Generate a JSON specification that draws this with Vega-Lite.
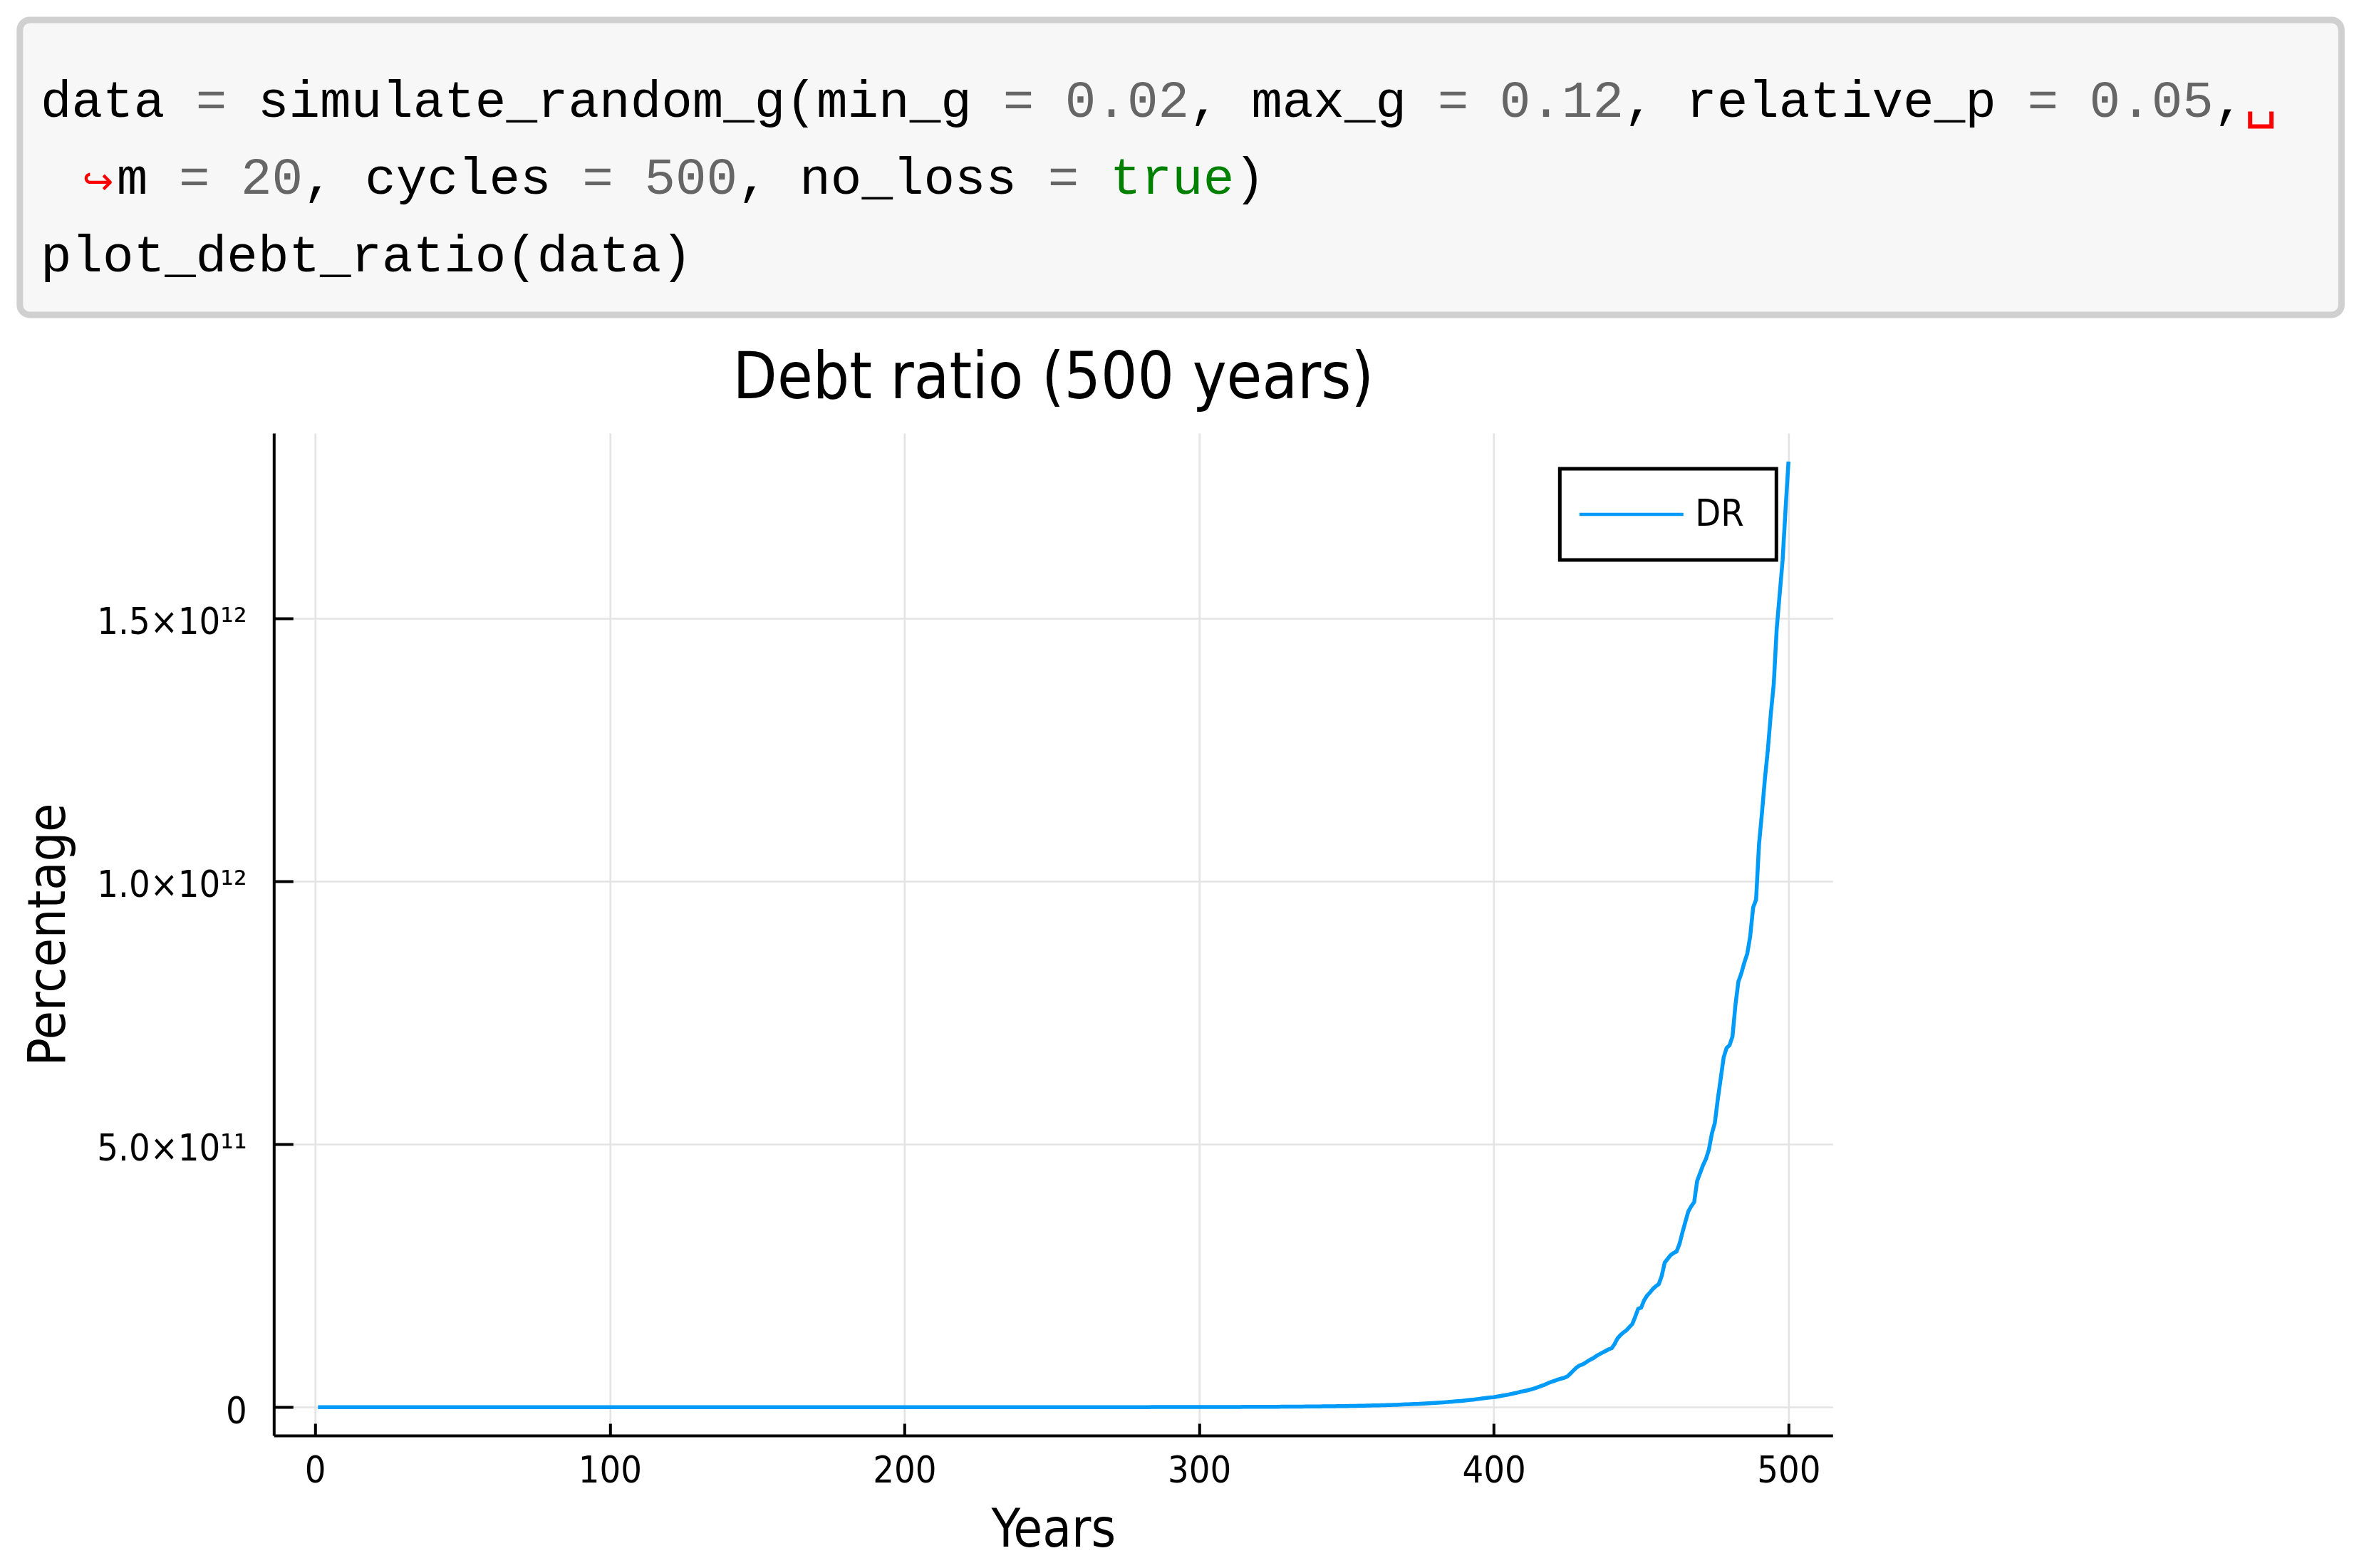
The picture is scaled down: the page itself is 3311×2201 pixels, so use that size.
{
  "$schema": "https://vega.github.io/schema/vega-lite/v6.json",
  "background": "white",
  "padding": {"left": 23.3, "top": 23, "right": 10, "bottom": 10},
  "spacing": 40,
  "config": {
    "view": {"stroke": null},
    "legend": {"strokeWidth": 5}
  },
  "resolve": {"scale": {"color": "independent", "x": "independent", "y": "independent"}},
  "vconcat": [
    {
      "width": 2902,
      "height": 414,
      "layer": [
        {
          "data": {"values": [{"frame": "code cell"}]},
          "mark": {"type": "rect", "fill": "#f7f7f7", "stroke": "#d0d0d0", "strokeWidth": 9, "cornerRadius": 14},
          "encoding": {
            "x": {"datum": -0.67, "type": "quantitative", "scale": {"domain": [7.512, 74.118], "nice": false, "zero": false}, "axis": null},
            "x2": {"datum": 74.12},
            "y": {"datum": -0.25, "type": "quantitative", "scale": {"domain": [-0.25, 3.566], "nice": false, "zero": false, "reverse": true}, "axis": null},
            "y2": {"datum": 3.566}
          }
        },
        {
          "data": {"name": "code"},
          "transform": [{"filter": "datum.kind != 'wrap'"}],
          "mark": {"type": "text", "font": "Liberation Mono", "fontSize": 72.6, "align": "left", "baseline": "alphabetic"},
          "encoding": {
            "x": {"field": "col", "type": "quantitative", "scale": {"domain": [7.512, 74.118], "nice": false, "zero": false}, "axis": null},
            "y": {"field": "line", "type": "quantitative", "scale": {"domain": [-0.25, 3.566], "nice": false, "zero": false, "reverse": true}, "axis": null},
            "text": {"field": "token"},
            "color": {"field": "kind", "type": "nominal", "scale": {"domain": ["plain", "op", "num", "keyword", "wrap", "space"], "range": ["#000000", "#666666", "#666666", "#008000", "#ff0000", "#ff0000"]}, "legend": null}
          }
        },
        {
          "data": {"name": "code"},
          "transform": [{"filter": "datum.kind == 'wrap'"}],
          "mark": {"type": "text", "font": "DejaVu Sans", "fontSize": 52, "align": "left", "baseline": "alphabetic"},
          "encoding": {
            "x": {"field": "col", "type": "quantitative", "axis": null},
            "y": {"field": "line", "type": "quantitative", "axis": null},
            "text": {"field": "token"},
            "color": {"field": "kind", "type": "nominal", "legend": null}
          }
        }
      ]
    },
    {
      "width": 2188,
      "height": 1407,
      "title": {"text": "Debt ratio (500 years)", "font": "DejaVu Sans Condensed, Liberation Sans, sans-serif", "fontSize": 90, "fontWeight": "normal", "color": "black", "anchor": "middle", "offset": 30},
      "data": {"name": "debt"},
      "mark": {"type": "line", "strokeWidth": 5.5, "interpolate": "linear"},
      "encoding": {
        "x": {
          "field": "year", "type": "quantitative",
          "scale": {"domain": [-14, 515], "nice": false, "zero": false},
          "axis": {
            "values": [0, 100, 200, 300, 400, 500], "format": "d",
            "title": "Years", "titleFont": "DejaVu Sans Condensed, Liberation Sans, sans-serif", "titleFontSize": 74, "titleFontWeight": "normal", "titleColor": "black", "titlePadding": 22,
            "labelFont": "DejaVu Sans Condensed, Liberation Sans, sans-serif", "labelFontSize": 52, "labelColor": "black", "labelPadding": 42,
            "domainColor": "black", "domainWidth": 4, "tickColor": "black", "tickWidth": 4, "tickSize": -17,
            "grid": true, "gridColor": "#e4e4e4", "gridWidth": 2.7
          }
        },
        "y": {
          "field": "dr", "type": "quantitative",
          "scale": {"domain": [-5.39e10, 1.852e12], "nice": false, "zero": false},
          "axis": {
            "values": [0, 5e11, 1e12, 1.5e12],
            "labelExpr": "datum.value == 0 ? '0' : (datum.value < 9e11 ? format(datum.value / 1e11, '.1f') + '×10¹¹' : format(datum.value / 1e12, '.1f') + '×10¹²')",
            "labelLimit": 500, "maxExtent": 500, "minExtent": 0,
            "title": "Percentage", "titleFont": "DejaVu Sans Condensed, Liberation Sans, sans-serif", "titleFontSize": 73, "titleFontWeight": "normal", "titleColor": "black", "titlePadding": 30,
            "labelFont": "DejaVu Sans Condensed, Liberation Sans, sans-serif", "labelFontSize": 52, "labelColor": "black", "labelPadding": 65, "labelOffset": 6,
            "domainColor": "black", "domainWidth": 4, "tickColor": "black", "tickWidth": 4, "tickSize": -27,
            "grid": true, "gridColor": "#e4e4e4", "gridWidth": 2.7
          }
        },
        "color": {
          "datum": "DR", "type": "nominal",
          "scale": {"domain": ["DR"], "range": ["#009AF9"]},
          "legend": {
            "title": " ", "titleOrient": "right", "titlePadding": 20, "titleFontSize": 52,
            "orient": "none", "legendX": 1805, "legendY": 50,
            "padding": 25, "fillColor": "white", "strokeColor": "black",
            "symbolType": "stroke", "symbolSize": 21316, "symbolStrokeWidth": 4.5,
            "labelFont": "DejaVu Sans Condensed, Liberation Sans, sans-serif", "labelFontSize": 52, "labelColor": "black", "labelOffset": 14,
            "clipHeight": 78
          }
        }
      }
    }
  ],
  "datasets": {
    "code": [
      {"line": 1, "col": 0, "token": "data", "kind": "plain"},
      {"line": 1, "col": 5, "token": "=", "kind": "op"},
      {"line": 1, "col": 7, "token": "simulate_random_g(min_g", "kind": "plain"},
      {"line": 1, "col": 31, "token": "=", "kind": "op"},
      {"line": 1, "col": 33, "token": "0.02", "kind": "num"},
      {"line": 1, "col": 37, "token": ",", "kind": "plain"},
      {"line": 1, "col": 39, "token": "max_g", "kind": "plain"},
      {"line": 1, "col": 45, "token": "=", "kind": "op"},
      {"line": 1, "col": 47, "token": "0.12", "kind": "num"},
      {"line": 1, "col": 51, "token": ",", "kind": "plain"},
      {"line": 1, "col": 53, "token": "relative_p", "kind": "plain"},
      {"line": 1, "col": 64, "token": "=", "kind": "op"},
      {"line": 1, "col": 66, "token": "0.05", "kind": "num"},
      {"line": 1, "col": 70, "token": ",", "kind": "plain"},
      {"line": 1, "col": 71, "token": "␣", "kind": "space"},
      {"line": 2, "col": 1.35, "token": "↪", "kind": "wrap"},
      {"line": 2, "col": 2.45, "token": "m", "kind": "plain"},
      {"line": 2, "col": 4.45, "token": "=", "kind": "op"},
      {"line": 2, "col": 6.45, "token": "20", "kind": "num"},
      {"line": 2, "col": 8.45, "token": ",", "kind": "plain"},
      {"line": 2, "col": 10.45, "token": "cycles", "kind": "plain"},
      {"line": 2, "col": 17.45, "token": "=", "kind": "op"},
      {"line": 2, "col": 19.45, "token": "500", "kind": "num"},
      {"line": 2, "col": 22.45, "token": ",", "kind": "plain"},
      {"line": 2, "col": 24.45, "token": "no_loss", "kind": "plain"},
      {"line": 2, "col": 32.45, "token": "=", "kind": "op"},
      {"line": 2, "col": 34.45, "token": "true", "kind": "keyword"},
      {"line": 2, "col": 38.45, "token": ")", "kind": "plain"},
      {"line": 3, "col": 0, "token": "plot_debt_ratio(data)", "kind": "plain"}
    ],
    "debt": [
      {"year":1,"dr":460},{"year":2,"dr":480},{"year":3,"dr":502},{"year":4,"dr":525},{"year":5,"dr":548},{"year":6,"dr":573},{"year":7,"dr":599},{"year":8,"dr":626},{"year":9,"dr":654},
      {"year":10,"dr":685},{"year":11,"dr":716},{"year":12,"dr":748},{"year":13,"dr":782},{"year":14,"dr":817},{"year":15,"dr":854},{"year":16,"dr":892},{"year":17,"dr":932},{"year":18,"dr":974},{"year":19,"dr":1018},
      {"year":20,"dr":1060},{"year":21,"dr":1108},{"year":22,"dr":1158},{"year":23,"dr":1209},{"year":24,"dr":1265},{"year":25,"dr":1321},{"year":26,"dr":1380},{"year":27,"dr":1443},{"year":28,"dr":1507},{"year":29,"dr":1575},
      {"year":30,"dr":1640},{"year":31,"dr":1714},{"year":32,"dr":1791},{"year":33,"dr":1871},{"year":34,"dr":1957},{"year":35,"dr":2043},{"year":36,"dr":2135},{"year":37,"dr":2232},{"year":38,"dr":2332},{"year":39,"dr":2437},
      {"year":40,"dr":2560},{"year":41,"dr":2675},{"year":42,"dr":2796},{"year":43,"dr":2921},{"year":44,"dr":3054},{"year":45,"dr":3190},{"year":46,"dr":3333},{"year":47,"dr":3484},{"year":48,"dr":3640},{"year":49,"dr":3804},
      {"year":50,"dr":3970},{"year":51,"dr":4149},{"year":52,"dr":4335},{"year":53,"dr":4530},{"year":54,"dr":4736},{"year":55,"dr":4947},{"year":56,"dr":5169},{"year":57,"dr":5403},{"year":58,"dr":5645},{"year":59,"dr":5899},
      {"year":60,"dr":6170},{"year":61,"dr":6448},{"year":62,"dr":6738},{"year":63,"dr":7040},{"year":64,"dr":7361},{"year":65,"dr":7688},{"year":66,"dr":8033},{"year":67,"dr":8397},{"year":68,"dr":8774},{"year":69,"dr":9169},
      {"year":70,"dr":9580},{"year":71,"dr":10011},{"year":72,"dr":10461},{"year":73,"dr":10931},{"year":74,"dr":11429},{"year":75,"dr":11937},{"year":76,"dr":12473},{"year":77,"dr":13038},{"year":78,"dr":13623},{"year":79,"dr":14236},
      {"year":80,"dr":14900},{"year":81,"dr":15571},{"year":82,"dr":16271},{"year":83,"dr":17001},{"year":84,"dr":17776},{"year":85,"dr":18565},{"year":86,"dr":19400},{"year":87,"dr":20279},{"year":88,"dr":21188},{"year":89,"dr":22141},
      {"year":90,"dr":23100},{"year":91,"dr":24140},{"year":92,"dr":25225},{"year":93,"dr":26357},{"year":94,"dr":27558},{"year":95,"dr":28783},{"year":96,"dr":30076},{"year":97,"dr":31439},{"year":98,"dr":32848},{"year":99,"dr":34327},
      {"year":100,"dr":35000},{"year":101,"dr":36575},{"year":102,"dr":38220},{"year":103,"dr":39935},{"year":104,"dr":41755},{"year":105,"dr":43610},{"year":106,"dr":45570},{"year":107,"dr":47635},{"year":108,"dr":49770},{"year":109,"dr":52010},
      {"year":110,"dr":55000},{"year":111,"dr":57475},{"year":112,"dr":60060},{"year":113,"dr":62755},{"year":114,"dr":65615},{"year":115,"dr":68530},{"year":116,"dr":71610},{"year":117,"dr":74855},{"year":118,"dr":78210},{"year":119,"dr":81730},
      {"year":120,"dr":85000},{"year":121,"dr":88825},{"year":122,"dr":92820},{"year":123,"dr":96985},{"year":124,"dr":101405},{"year":125,"dr":105910},{"year":126,"dr":110670},{"year":127,"dr":115685},{"year":128,"dr":120870},{"year":129,"dr":126310},
      {"year":130,"dr":132000},{"year":131,"dr":137940},{"year":132,"dr":144144},{"year":133,"dr":150612},{"year":134,"dr":157476},{"year":135,"dr":164472},{"year":136,"dr":171864},{"year":137,"dr":179652},{"year":138,"dr":187704},{"year":139,"dr":196152},
      {"year":140,"dr":205000},{"year":141,"dr":214225},{"year":142,"dr":223860},{"year":143,"dr":233905},{"year":144,"dr":244565},{"year":145,"dr":255430},{"year":146,"dr":266910},{"year":147,"dr":279005},{"year":148,"dr":291510},{"year":149,"dr":304630},
      {"year":150,"dr":320000},{"year":151,"dr":334400},{"year":152,"dr":349440},{"year":153,"dr":365120},{"year":154,"dr":381760},{"year":155,"dr":398720},{"year":156,"dr":416640},{"year":157,"dr":435520},{"year":158,"dr":455040},{"year":159,"dr":475520},
      {"year":160,"dr":495000},{"year":161,"dr":517275},{"year":162,"dr":540540},{"year":163,"dr":564795},{"year":164,"dr":590535},{"year":165,"dr":616770},{"year":166,"dr":644490},{"year":167,"dr":673695},{"year":168,"dr":703890},{"year":169,"dr":735570},
      {"year":170,"dr":770000},{"year":171,"dr":804650},{"year":172,"dr":840840},{"year":173,"dr":878570},{"year":174,"dr":918610},{"year":175,"dr":959420},{"year":176,"dr":1002540},{"year":177,"dr":1047970},{"year":178,"dr":1094940},{"year":179,"dr":1144220},
      {"year":180,"dr":1.2e6},{"year":181,"dr":1.254e6},{"year":182,"dr":1.31e6},{"year":183,"dr":1.369e6},{"year":184,"dr":1.432e6},{"year":185,"dr":1.495e6},{"year":186,"dr":1.562e6},{"year":187,"dr":1.633e6},{"year":188,"dr":1.706e6},{"year":189,"dr":1.783e6},
      {"year":190,"dr":1.86e6},{"year":191,"dr":1.944e6},{"year":192,"dr":2.031e6},{"year":193,"dr":2.122e6},{"year":194,"dr":2.219e6},{"year":195,"dr":2.318e6},{"year":196,"dr":2.422e6},{"year":197,"dr":2.531e6},{"year":198,"dr":2.645e6},{"year":199,"dr":2.764e6},
      {"year":200,"dr":2.9e6},{"year":201,"dr":3.03e6},{"year":202,"dr":3.167e6},{"year":203,"dr":3.309e6},{"year":204,"dr":3.46e6},{"year":205,"dr":3.613e6},{"year":206,"dr":3.776e6},{"year":207,"dr":3.947e6},{"year":208,"dr":4.124e6},{"year":209,"dr":4.309e6},
      {"year":210,"dr":4.5e6},{"year":211,"dr":4.703e6},{"year":212,"dr":4.914e6},{"year":213,"dr":5.135e6},{"year":214,"dr":5.369e6},{"year":215,"dr":5.607e6},{"year":216,"dr":5.859e6},{"year":217,"dr":6.125e6},{"year":218,"dr":6.399e6},{"year":219,"dr":6.687e6},
      {"year":220,"dr":7.0e6},{"year":221,"dr":7.315e6},{"year":222,"dr":7.644e6},{"year":223,"dr":7.987e6},{"year":224,"dr":8.351e6},{"year":225,"dr":8.722e6},{"year":226,"dr":9.114e6},{"year":227,"dr":9.527e6},{"year":228,"dr":9.954e6},{"year":229,"dr":1.04e7},
      {"year":230,"dr":1.09e7},{"year":231,"dr":1.139e7},{"year":232,"dr":1.19e7},{"year":233,"dr":1.244e7},{"year":234,"dr":1.3e7},{"year":235,"dr":1.358e7},{"year":236,"dr":1.419e7},{"year":237,"dr":1.483e7},{"year":238,"dr":1.55e7},{"year":239,"dr":1.62e7},
      {"year":240,"dr":1.69e7},{"year":241,"dr":1.766e7},{"year":242,"dr":1.845e7},{"year":243,"dr":1.928e7},{"year":244,"dr":2.016e7},{"year":245,"dr":2.106e7},{"year":246,"dr":2.2e7},{"year":247,"dr":2.3e7},{"year":248,"dr":2.403e7},{"year":249,"dr":2.511e7},
      {"year":250,"dr":2.6e7},{"year":251,"dr":2.717e7},{"year":252,"dr":2.839e7},{"year":253,"dr":2.967e7},{"year":254,"dr":3.102e7},{"year":255,"dr":3.24e7},{"year":256,"dr":3.385e7},{"year":257,"dr":3.539e7},{"year":258,"dr":3.697e7},{"year":259,"dr":3.864e7},
      {"year":260,"dr":4.1e7},{"year":261,"dr":4.285e7},{"year":262,"dr":4.477e7},{"year":263,"dr":4.678e7},{"year":264,"dr":4.891e7},{"year":265,"dr":5.109e7},{"year":266,"dr":5.338e7},{"year":267,"dr":5.58e7},{"year":268,"dr":5.83e7},{"year":269,"dr":6.093e7},
      {"year":270,"dr":6.3e7},{"year":271,"dr":6.584e7},{"year":272,"dr":6.88e7},{"year":273,"dr":7.188e7},{"year":274,"dr":7.516e7},{"year":275,"dr":7.85e7},{"year":276,"dr":8.203e7},{"year":277,"dr":8.574e7},{"year":278,"dr":8.959e7},{"year":279,"dr":9.362e7},
      {"year":280,"dr":9.8e7},{"year":281,"dr":1.024e8},{"year":282,"dr":1.07e8},{"year":283,"dr":1.118e8},{"year":284,"dr":1.169e8},{"year":285,"dr":1.221e8},{"year":286,"dr":1.276e8},{"year":287,"dr":1.334e8},{"year":288,"dr":1.394e8},{"year":289,"dr":1.456e8},
      {"year":290,"dr":1.52e8},{"year":291,"dr":1.588e8},{"year":292,"dr":1.66e8},{"year":293,"dr":1.734e8},{"year":294,"dr":1.813e8},{"year":295,"dr":1.894e8},{"year":296,"dr":1.979e8},{"year":297,"dr":2.069e8},{"year":298,"dr":2.161e8},{"year":299,"dr":2.259e8},
      {"year":300,"dr":2.36e8},{"year":301,"dr":2.47e8},{"year":302,"dr":2.58e8},{"year":303,"dr":2.69e8},{"year":304,"dr":2.81e8},{"year":305,"dr":2.94e8},{"year":306,"dr":3.07e8},{"year":307,"dr":3.21e8},{"year":308,"dr":3.36e8},{"year":309,"dr":3.51e8},
      {"year":310,"dr":3.7e8},{"year":311,"dr":3.86e8},{"year":312,"dr":4.03e8},{"year":313,"dr":4.21e8},{"year":314,"dr":4.4e8},{"year":315,"dr":4.6e8},{"year":316,"dr":4.81e8},{"year":317,"dr":5.02e8},{"year":318,"dr":5.25e8},{"year":319,"dr":5.48e8},
      {"year":320,"dr":5.7e8},{"year":321,"dr":5.96e8},{"year":322,"dr":6.23e8},{"year":323,"dr":6.51e8},{"year":324,"dr":6.8e8},{"year":325,"dr":7.1e8},{"year":326,"dr":7.42e8},{"year":327,"dr":7.76e8},{"year":328,"dr":8.1e8},{"year":329,"dr":8.47e8},
      {"year":330,"dr":8.9e8},{"year":331,"dr":9.3e8},{"year":332,"dr":9.7e8},{"year":333,"dr":1.01e9},{"year":334,"dr":1.06e9},{"year":335,"dr":1.11e9},{"year":336,"dr":1.16e9},{"year":337,"dr":1.21e9},{"year":338,"dr":1.26e9},{"year":339,"dr":1.32e9},
      {"year":340,"dr":1.38e9},{"year":341,"dr":1.44e9},{"year":342,"dr":1.51e9},{"year":343,"dr":1.57e9},{"year":344,"dr":1.64e9},{"year":345,"dr":1.72e9},{"year":346,"dr":1.8e9},{"year":347,"dr":1.88e9},{"year":348,"dr":1.96e9},{"year":349,"dr":2.05e9},
      {"year":350,"dr":2.14e9},{"year":351,"dr":2.24e9},{"year":352,"dr":2.34e9},{"year":353,"dr":2.44e9},{"year":354,"dr":2.55e9},{"year":355,"dr":2.67e9},{"year":356,"dr":2.79e9},{"year":357,"dr":2.91e9},{"year":358,"dr":3.04e9},{"year":359,"dr":3.18e9},
      {"year":360,"dr":3.3e9},{"year":361,"dr":3.45e9},{"year":362,"dr":3.61e9},{"year":363,"dr":3.77e9},{"year":364,"dr":3.94e9},{"year":365,"dr":4.12e9},{"year":366,"dr":4.3e9},{"year":367,"dr":4.5e9},{"year":368,"dr":4.7e9},{"year":369,"dr":4.95e9},
      {"year":370,"dr":5.2e9},{"year":371,"dr":5.43e9},{"year":372,"dr":5.68e9},{"year":373,"dr":5.93e9},{"year":374,"dr":6.2e9},{"year":375,"dr":6.48e9},{"year":376,"dr":6.77e9},{"year":377,"dr":7.07e9},{"year":378,"dr":7.39e9},{"year":379,"dr":7.7e9},
      {"year":380,"dr":8.0e9},{"year":381,"dr":8.4e9},{"year":382,"dr":8.8e9},{"year":383,"dr":9.2e9},{"year":384,"dr":9.6e9},{"year":385,"dr":1.0e10},{"year":386,"dr":1.05e10},{"year":387,"dr":1.1e10},{"year":388,"dr":1.14e10},{"year":389,"dr":1.19e10},
      {"year":390,"dr":1.25e10},{"year":391,"dr":1.31e10},{"year":392,"dr":1.37e10},{"year":393,"dr":1.43e10},{"year":394,"dr":1.5e10},{"year":395,"dr":1.57e10},{"year":396,"dr":1.64e10},{"year":397,"dr":1.72e10},{"year":398,"dr":1.8e10},{"year":399,"dr":1.85e10},
      {"year":400,"dr":1.9e10},{"year":401,"dr":2.0e10},{"year":402,"dr":2.1e10},{"year":403,"dr":2.2e10},{"year":404,"dr":2.3e10},{"year":405,"dr":2.4e10},{"year":406,"dr":2.52e10},{"year":407,"dr":2.63e10},{"year":408,"dr":2.75e10},{"year":409,"dr":2.9e10},
      {"year":410,"dr":3.02e10},{"year":411,"dr":3.15e10},{"year":412,"dr":3.28e10},{"year":413,"dr":3.42e10},{"year":414,"dr":3.6e10},{"year":415,"dr":3.8e10},{"year":416,"dr":4.0e10},{"year":417,"dr":4.2e10},{"year":418,"dr":4.45e10},{"year":419,"dr":4.7e10},
      {"year":420,"dr":4.9e10},{"year":421,"dr":5.1e10},{"year":422,"dr":5.3e10},{"year":423,"dr":5.45e10},{"year":424,"dr":5.6e10},{"year":425,"dr":5.85e10},{"year":426,"dr":6.4e10},{"year":427,"dr":6.95e10},{"year":428,"dr":7.5e10},{"year":429,"dr":7.9e10},
      {"year":430,"dr":8.1e10},{"year":431,"dr":8.4e10},{"year":432,"dr":8.8e10},{"year":433,"dr":9.1e10},{"year":434,"dr":9.4e10},{"year":435,"dr":9.8e10},{"year":436,"dr":1.01e11},{"year":437,"dr":1.04e11},{"year":438,"dr":1.07e11},{"year":439,"dr":1.1e11},
      {"year":440,"dr":1.12e11},{"year":441,"dr":1.2e11},{"year":442,"dr":1.31e11},{"year":443,"dr":1.37e11},{"year":444,"dr":1.42e11},{"year":445,"dr":1.46e11},{"year":446,"dr":1.52e11},{"year":447,"dr":1.58e11},{"year":448,"dr":1.72e11},{"year":449,"dr":1.87e11},
      {"year":450,"dr":1.89e11},{"year":451,"dr":2.03e11},{"year":452,"dr":2.12e11},{"year":453,"dr":2.18e11},{"year":454,"dr":2.25e11},{"year":455,"dr":2.3e11},{"year":456,"dr":2.34e11},{"year":457,"dr":2.5e11},{"year":458,"dr":2.75e11},{"year":459,"dr":2.82e11},
      {"year":460,"dr":2.89e11},{"year":461,"dr":2.93e11},{"year":462,"dr":2.96e11},{"year":463,"dr":3.1e11},{"year":464,"dr":3.32e11},{"year":465,"dr":3.52e11},{"year":466,"dr":3.72e11},{"year":467,"dr":3.82e11},{"year":468,"dr":3.9e11},{"year":469,"dr":4.3e11},
      {"year":470,"dr":4.45e11},{"year":471,"dr":4.6e11},{"year":472,"dr":4.72e11},{"year":473,"dr":4.9e11},{"year":474,"dr":5.2e11},{"year":475,"dr":5.4e11},{"year":476,"dr":5.85e11},{"year":477,"dr":6.25e11},{"year":478,"dr":6.65e11},{"year":479,"dr":6.83e11},
      {"year":480,"dr":6.88e11},{"year":481,"dr":7.05e11},{"year":482,"dr":7.65e11},{"year":483,"dr":8.09e11},{"year":484,"dr":8.25e11},{"year":485,"dr":8.45e11},{"year":486,"dr":8.62e11},{"year":487,"dr":8.95e11},{"year":488,"dr":9.5e11},{"year":489,"dr":9.65e11},
      {"year":490,"dr":1.07e12},{"year":491,"dr":1.13e12},{"year":492,"dr":1.195e12},{"year":493,"dr":1.25e12},{"year":494,"dr":1.318e12},{"year":495,"dr":1.375e12},{"year":496,"dr":1.48e12},{"year":497,"dr":1.545e12},{"year":498,"dr":1.61e12},{"year":499,"dr":1.707e12},
      {"year":500,"dr":1.798e12}
    ]
  }
}
